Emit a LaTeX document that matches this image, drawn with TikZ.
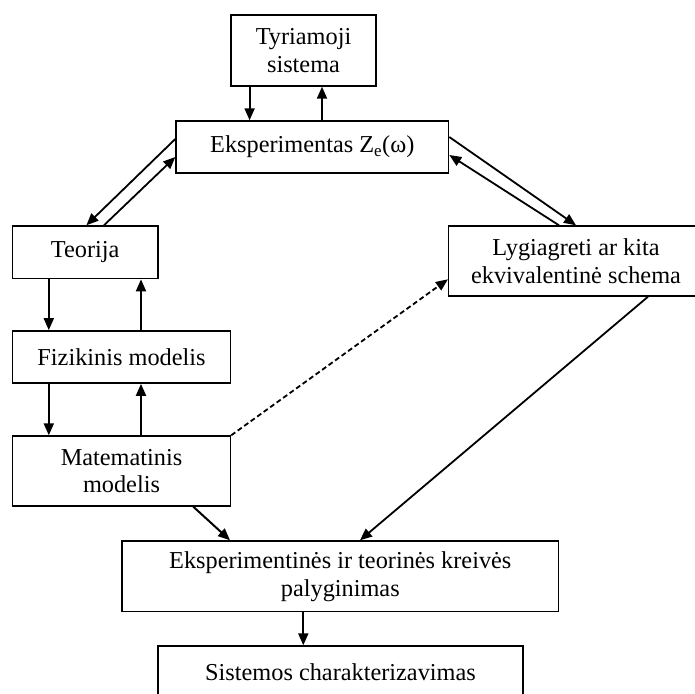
\documentclass[tikz,border=0pt]{standalone}
\usepackage{fontspec}
\setmainfont{Liberation Serif}
\usetikzlibrary{arrows.meta,calc}
\begin{document}
\begin{tikzpicture}[x=1pt,y=-1pt,
  box/.style={draw,line width=1.4pt,inner sep=0pt,align=center,font=\fontsize{24.3}{27.8}\selectfont},
  arr/.style={line width=2pt,-{Triangle[length=12pt,width=10pt]}},
  darr/.style={line width=1.8pt,-{Triangle[length=12pt,width=10pt]}},
  dasharr/.style={line width=1.8pt,dash pattern=on 5pt off 3pt,-{Triangle[length=12pt,width=10pt]}}]
\useasboundingbox (0,0) rectangle (695,693);
\clip (0,0) rectangle (695,693);
\fill[white] (0,0) rectangle (695,693);
\node[box,minimum width=145pt,minimum height=71pt] (tyr) at (303.5,50.5) {Tyriamoji\\sistema};
\node[box,minimum width=272.6pt,minimum height=52pt] (eks) at (312.3,147) {Eksperimentas Z\textsubscript{e}(ω)};
\node[box,minimum width=145.6pt,minimum height=52.7pt] (teo) at (85.2,252.3) {Teorija};
\node[box,minimum width=254.8pt,minimum height=70pt] (lyg) at (576,261) {Lygiagreti ar kita\\ekvivalentinė schema};
\node[box,minimum width=218pt,minimum height=52.3pt] (fiz) at (121.5,357) {Fizikinis modelis};
\node[box,minimum width=218pt,minimum height=70pt] (mat) at (121.5,471) {Matematinis\\modelis};
\node[box,minimum width=436.5pt,minimum height=70.7pt] (cmp) at (340.3,576.3) {Eksperimentinės ir teorinės kreivės\\palyginimas};
\node[box,minimum width=365pt,minimum height=52pt,text depth=0pt] (sis) at (340.5,672) {Sistemos charakterizavimas};
% top pair
\draw[arr] ([xshift=-53.9pt]tyr.south) -- ([xshift=-53.9pt]tyr.south |- eks.north);
\draw[arr] ([xshift=18.5pt]tyr.south |- eks.north) -- ([xshift=18.5pt]tyr.south);
% eks <-> teo
\draw[darr] ([yshift=8pt]eks.west) -- ([xshift=1.2pt]teo.north);
\draw[darr] ([xshift=18.8pt]teo.north) -- ([yshift=-10pt]eks.west);
% eks <-> lyg
\draw[darr] ([yshift=10pt]eks.east) -- (lyg.north);
\draw[darr] ([xshift=-17pt]lyg.north) -- ([yshift=-8pt]eks.east);
% teo <-> fiz
\draw[arr] ([xshift=-36.4pt]teo.south) -- ([xshift=-36.4pt]teo.south |- fiz.north);
\draw[arr] ([xshift=19.5pt]fiz.north) -- ([xshift=19.5pt]fiz.north |- teo.south);
% fiz <-> mat
\draw[arr] ([xshift=-72.7pt]fiz.south) -- ([xshift=-72.7pt]fiz.south |- mat.north);
\draw[arr] ([xshift=19.5pt]mat.north) -- ([xshift=19.5pt]fiz.south);
% dashed
\draw[dasharr] (mat.north east) -- ([yshift=-18.3pt]lyg.west);
% to cmp
\draw[darr] ([xshift=72pt]lyg.south) -- ([xshift=19.7pt]cmp.north);
\draw[arr] ([xshift=71.8pt]mat.south) -- ([xshift=-110.3pt]cmp.north);
\draw[arr] ([xshift=-37pt]cmp.south) -- ([xshift=-37pt]cmp.south |- sis.north);
\end{tikzpicture}
\end{document}
